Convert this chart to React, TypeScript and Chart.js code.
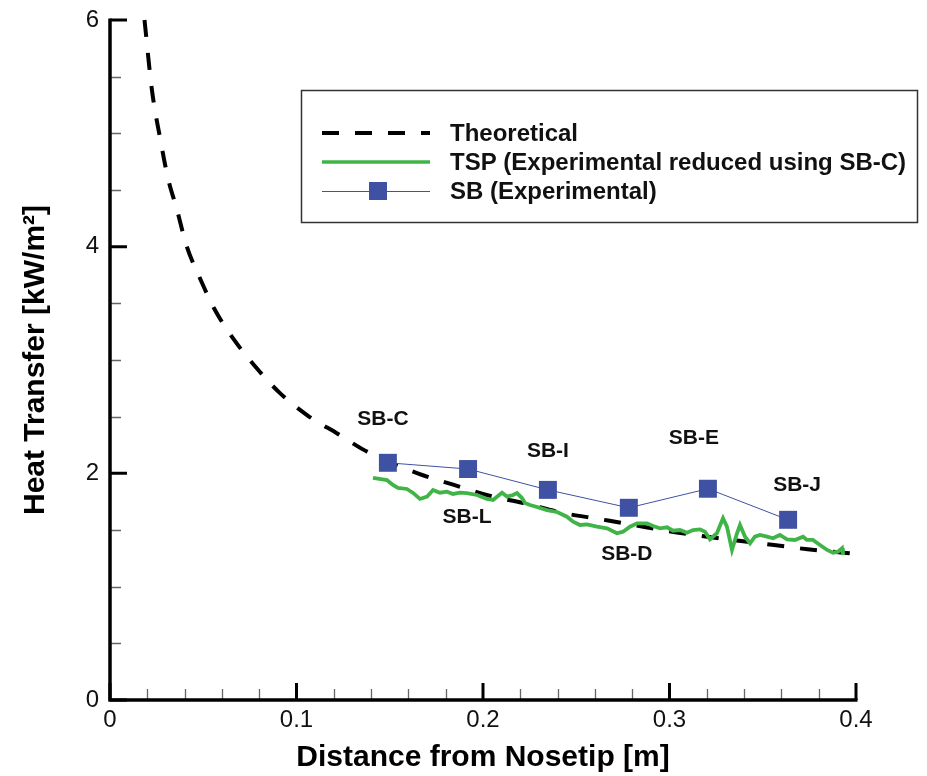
import React, { useEffect, useRef } from "react";
import { Chart, registerables } from "chart.js";
Chart.register(...registerables);

// ---- data ----
const theoryX = [0.0185, 0.0225, 0.0273, 0.031, 0.036, 0.041, 0.048, 0.056, 0.066, 0.078, 0.091, 0.106, 0.122, 0.138, 0.165, 0.184, 0.204, 0.221, 0.243, 0.261, 0.279, 0.299, 0.316, 0.335, 0.355, 0.374, 0.393, 0.4];
const theoryY = [6.0, 5.38, 4.92, 4.61, 4.32, 4.01, 3.73, 3.45, 3.19, 2.94, 2.71, 2.51, 2.35, 2.19, 2.0, 1.9, 1.8, 1.74, 1.65, 1.6, 1.55, 1.49, 1.45, 1.41, 1.37, 1.33, 1.3, 1.29];

const tspX = [0.141, 0.1485, 0.1517, 0.1544, 0.1592, 0.1625, 0.1662, 0.17, 0.1732, 0.1769, 0.1807, 0.1839, 0.1877, 0.1914, 0.1968, 0.2021, 0.2054, 0.2075, 0.2102, 0.2129, 0.2161, 0.2182, 0.2209, 0.2225, 0.2252, 0.229, 0.2343, 0.2397, 0.245, 0.2483, 0.252, 0.2558, 0.2611, 0.2665, 0.2718, 0.2751, 0.2788, 0.2826, 0.2879, 0.2912, 0.2949, 0.2987, 0.3019, 0.3056, 0.3094, 0.3126, 0.3164, 0.319, 0.3217, 0.3254, 0.3287, 0.3308, 0.3335, 0.3362, 0.3378, 0.3405, 0.3432, 0.3458, 0.3485, 0.3523, 0.3555, 0.3592, 0.363, 0.3673, 0.3716, 0.3737, 0.3769, 0.3807, 0.3845, 0.3877, 0.3903, 0.3925, 0.393];
const tspY = [1.959, 1.941, 1.897, 1.871, 1.862, 1.827, 1.774, 1.794, 1.853, 1.829, 1.838, 1.818, 1.829, 1.826, 1.809, 1.774, 1.765, 1.794, 1.829, 1.794, 1.809, 1.826, 1.782, 1.738, 1.721, 1.703, 1.676, 1.659, 1.617, 1.573, 1.544, 1.55, 1.529, 1.515, 1.471, 1.485, 1.529, 1.559, 1.559, 1.535, 1.515, 1.524, 1.494, 1.5, 1.476, 1.5, 1.506, 1.485, 1.418, 1.471, 1.603, 1.529, 1.324, 1.471, 1.544, 1.441, 1.383, 1.441, 1.456, 1.441, 1.427, 1.456, 1.418, 1.412, 1.441, 1.412, 1.412, 1.368, 1.324, 1.3, 1.309, 1.339, 1.279];

const sbNames = ["SB-C", "SB-L", "SB-I", "SB-D", "SB-E", "SB-J"];
const sbX = [0.149, 0.192, 0.2348, 0.2782, 0.3206, 0.3636];
const sbY = [2.093, 2.038, 1.854, 1.696, 1.864, 1.59];

const xTickValues = [0, 0.1, 0.2, 0.3, 0.4];
const yTickValues = [0, 2, 4, 6];
const legendLabels = ["Theoretical", "TSP (Experimental reduced using SB-C)", "SB (Experimental)"];

// annotation offsets (px) of SB labels relative to their markers
const labelOffsets = [
  [-5, -44],
  [-1, 48],
  [0, -39],
  [-2, 46],
  [-14, -51],
  [9, -35],
];

const FONT = "'Liberation Sans', Arial, sans-serif";
const GREEN = "#41b448";
const BLUE = "#3f51a3";
const DASH = [17, 16];

const framePlugin = {
  id: "frame",
  beforeDatasetsDraw(chart: any) {
    const { ctx } = chart;
    const x = chart.scales.x;
    const y = chart.scales.y;
    const x0 = x.getPixelForValue(0);
    const x1 = x.getPixelForValue(0.4);
    const y0 = y.getPixelForValue(0);
    const y1 = y.getPixelForValue(6);
    ctx.save();
    // minor ticks
    ctx.strokeStyle = "#666";
    ctx.lineWidth = 1.3;
    ctx.beginPath();
    for (let i = 0; i <= 12; i++) {
      if (i % 4 === 0) continue;
      const py = Math.round(y.getPixelForValue(i * 0.5)) + 0.5;
      ctx.moveTo(x0, py);
      ctx.lineTo(x0 + 11, py);
    }
    for (let i = 0; i <= 20; i++) {
      if (i % 5 === 0) continue;
      const px = Math.round(x.getPixelForValue(i * 0.02)) + 0.5;
      ctx.moveTo(px, y0);
      ctx.lineTo(px, y0 - 11);
    }
    ctx.stroke();
    // major ticks
    ctx.strokeStyle = "#000";
    ctx.lineWidth = 3;
    ctx.beginPath();
    yTickValues.forEach((v) => {
      const py = y.getPixelForValue(v);
      ctx.moveTo(x0, py);
      ctx.lineTo(x0 + 17, py);
    });
    xTickValues.forEach((v) => {
      const px = x.getPixelForValue(v);
      ctx.moveTo(px, y0);
      ctx.lineTo(px, y0 - 17);
    });
    ctx.stroke();
    // axis lines
    ctx.lineWidth = 3.5;
    ctx.beginPath();
    ctx.moveTo(x0, y1 - 1.5);
    ctx.lineTo(x0, y0);
    ctx.lineTo(x1 + 1.5, y0);
    ctx.stroke();
    ctx.restore();
  },
  afterDatasetsDraw(chart: any) {
    const { ctx } = chart;
    const x = chart.scales.x;
    const y = chart.scales.y;
    ctx.save();
    ctx.fillStyle = "#111";
    ctx.font = `bold 21px ${FONT}`;
    ctx.textAlign = "center";
    ctx.textBaseline = "middle";
    sbNames.forEach((n, i) => {
      const px = x.getPixelForValue(sbX[i]) + labelOffsets[i][0];
      const py = y.getPixelForValue(sbY[i]) + labelOffsets[i][1];
      ctx.fillText(n, px, py);
    });
    // legend box
    const bx = 301, by = 90, bw = 616, bh = 132;
    ctx.strokeStyle = "#333";
    ctx.lineWidth = 1.5;
    ctx.strokeRect(bx + 0.5, by + 0.5, bw, bh);
    const rows = [133, 162, 191];
    const lx0 = 322, lx1 = 430, tx = 450;
    // theoretical
    ctx.strokeStyle = "#000";
    ctx.lineWidth = 4;
    ctx.setLineDash(DASH);
    ctx.beginPath();
    ctx.moveTo(lx0, rows[0]);
    ctx.lineTo(lx1, rows[0]);
    ctx.stroke();
    ctx.setLineDash([]);
    // tsp
    ctx.strokeStyle = GREEN;
    ctx.lineWidth = 3.5;
    ctx.beginPath();
    ctx.moveTo(lx0, rows[1]);
    ctx.lineTo(lx1, rows[1]);
    ctx.stroke();
    // sb
    ctx.strokeStyle = BLUE;
    ctx.lineWidth = 1;
    ctx.beginPath();
    ctx.moveTo(lx0, rows[2] + 0.5);
    ctx.lineTo(lx1, rows[2] + 0.5);
    ctx.stroke();
    ctx.fillStyle = BLUE;
    ctx.fillRect(369, rows[2] - 9, 18, 18);
    ctx.fillStyle = "#111";
    ctx.font = `bold 24px ${FONT}`;
    ctx.textAlign = "left";
    legendLabels.forEach((t, i) => ctx.fillText(t, tx, rows[i] + 1));
    ctx.restore();
  },
};

export default function App() {
  const ref = useRef<HTMLCanvasElement | null>(null);
  useEffect(() => {
    document.body.style.margin = "0";
    const canvas = ref.current!;
    const chart = new Chart(canvas, {
      type: "line",
      data: {
        datasets: [
          {
            label: legendLabels[2],
            data: sbX.map((v, i) => ({ x: v, y: sbY[i] })),
            borderColor: BLUE,
            backgroundColor: BLUE,
            borderWidth: 1,
            pointStyle: "rect",
            pointRadius: 12.7,
            pointBorderWidth: 0,
            pointHoverRadius: 12.7,
          },
          {
            label: legendLabels[1],
            data: tspX.map((v, i) => ({ x: v, y: tspY[i] })),
            borderColor: GREEN,
            borderWidth: 3.8,
            pointRadius: 0,
            tension: 0,
          },
          {
            label: legendLabels[0],
            data: theoryX.map((v, i) => ({ x: v, y: theoryY[i] })),
            borderColor: "#000",
            borderWidth: 4,
            borderDash: DASH,
            pointRadius: 0,
            cubicInterpolationMode: "monotone",
            clip: 6,
          } as any,
        ],
      },
      options: {
        animation: false,
        responsive: false,
        devicePixelRatio: 1,
        layout: { padding: { left: 0, top: 20, right: 71, bottom: 0 } },
        plugins: { legend: { display: false }, tooltip: { enabled: false } },
        events: [],
        scales: {
          x: {
            type: "linear",
            min: 0,
            max: 0.4,
            afterBuildTicks: (s: any) => {
              s.ticks = xTickValues.map((v) => ({ value: v }));
            },
            ticks: {
              font: { family: FONT, size: 24 },
              color: "#111",
              padding: 6,
              maxRotation: 0,
              callback: (v: any) => String(Math.round(Number(v) * 10) / 10),
            },
            grid: { display: false, drawTicks: false },
            border: { display: false },
            title: {
              display: true,
              text: "Distance from Nosetip [m]",
              font: { family: FONT, size: 30, weight: "bold" },
              color: "#000",
              padding: { top: 0, bottom: 0 },
            },
            afterFit: (s: any) => {
              s.height = 76;
              s.paddingLeft = 0;
              s.paddingRight = 0;
            },
          },
          y: {
            type: "linear",
            min: 0,
            max: 6,
            afterBuildTicks: (s: any) => {
              s.ticks = yTickValues.map((v) => ({ value: v }));
            },
            ticks: {
              font: { family: FONT, size: 24 },
              color: "#111",
              padding: 11,
            },
            grid: { display: false, drawTicks: false },
            border: { display: false },
            title: {
              display: true,
              text: "Heat Transfer [kW/m²]",
              font: { family: FONT, size: 30, weight: "bold" },
              color: "#000",
              padding: { top: 18, bottom: 0 },
            },
            afterFit: (s: any) => {
              s.width = 110;
              s.paddingTop = 0;
              s.paddingBottom = 0;
            },
          },
        },
      },
      plugins: [framePlugin],
    });
    return () => chart.destroy();
  }, []);
  return (
    <div style={{ width: 927, height: 776, background: "#fff" }}>
      <canvas ref={ref} width={927} height={776} style={{ display: "block" }} />
    </div>
  );
}
